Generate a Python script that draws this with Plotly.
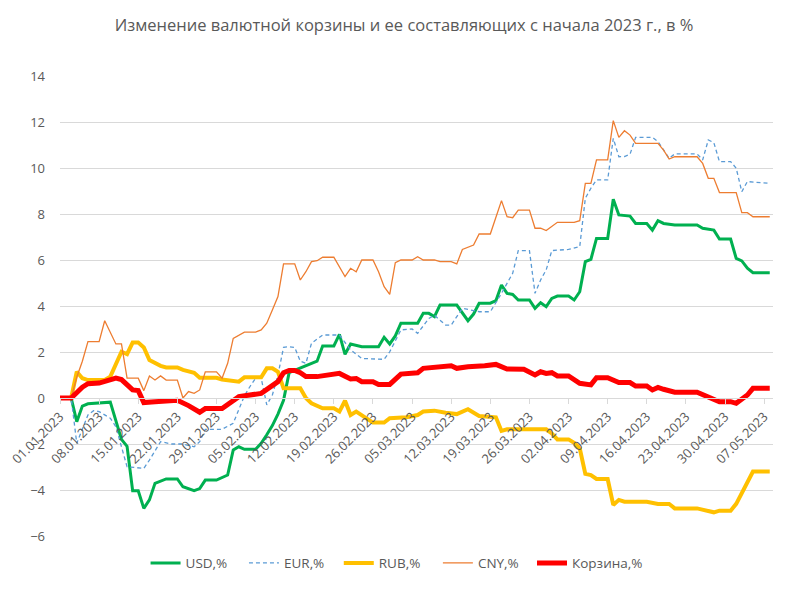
import pandas as pd
import plotly.graph_objects as go

# days counted from 01.01.2023, values in %
usd_day = [0, 2, 3, 4, 5, 8, 9, 11, 12, 13, 14, 15, 16, 17, 19, 21, 22, 24, 25, 26, 28, 30, 31, 32, 33, 35, 36, 37, 38, 39, 40,
           41, 42, 44, 46, 47, 49, 50, 51, 52, 54, 57, 58, 59, 60, 61, 64, 65, 66, 67, 68, 71, 73, 74, 75, 77, 78, 79, 80,
           81, 82, 84, 85, 86, 87, 88, 89, 91, 92, 93, 94, 95, 96, 98, 99, 100, 102, 103, 105, 106, 107, 108, 110, 114,
           115, 117, 118, 120, 121, 122, 123, 124, 127]
usd_val = [0, 0, -1.03, -0.35, -0.25, -0.22, -0.18, -1.8, -2.1, -4.03, -4.03, -4.8, -4.43, -3.71, -3.52, -3.52, -3.86,
           -4.03, -3.94, -3.57, -3.57, -3.35, -2.26, -2.12, -2.23, -2.23, -1.97, -1.6, -1.2, -0.7, -0.1,
           1.1, 1.2, 1.4, 1.6, 2.26, 2.26, 2.77, 1.9, 2.35, 2.23, 2.23, 2.64, 2.35, 2.7, 3.25, 3.25, 3.68, 3.68, 3.54,
           4.04, 4.04, 3.36, 3.65, 4.12, 4.12, 4.23, 4.91, 4.55, 4.5, 4.26, 4.26, 3.9, 4.14, 3.97, 4.33, 4.43, 4.43,
           4.26, 4.62, 5.93, 6.03, 6.94, 6.94, 8.64, 7.96, 7.91, 7.59, 7.59, 7.3, 7.71, 7.59, 7.52, 7.52, 7.38, 7.3,
           6.91, 6.91, 6.07, 5.96, 5.64, 5.45, 5.45]

eur_day = [0, 2, 3, 5, 6, 7, 9, 10, 11, 12, 15, 16, 18, 20, 22, 24, 25, 26, 29, 31, 32, 33, 34, 35, 36, 37, 38, 39, 40,
           41, 42, 43, 44, 45, 47, 50, 52, 54, 58, 59, 61, 63, 64, 66, 67, 69, 70, 72, 75, 77, 79, 81, 82, 84, 85, 86,
           87, 88, 91, 93, 94, 95, 96, 98, 99, 100, 101, 102, 103, 106, 107, 109, 110, 114, 115, 116, 117, 118, 120,
           121, 122, 123, 127]
eur_val = [0, 0, -1.97, -0.74, -0.55, -0.59, -0.88, -1.25, -2.12, -2.99, -3.06, -2.7, -1.9, -2.0, -2.0, -2.12, -1.9,
           -1.36, -1.36, -1.1, -0.5, 0.1, 0.5, 0.86, 0.86, -0.3, 0.13, 1.0, 2.2, 2.23, 2.2, 1.6, 1.51, 2.38, 2.74,
           2.74, 2.09, 1.72, 1.68, 2.01, 2.96, 3.0, 2.81, 3.46, 3.6, 3.17, 3.17, 3.9, 3.75, 3.75, 4.55, 5.42, 6.41,
           6.41, 4.55, 5.13, 5.57, 6.41, 6.46, 6.58, 8.68, 9.12, 9.48, 9.48, 11.29, 10.49, 10.5, 10.6, 11.33, 11.33,
           11.15, 10.42, 10.61, 10.61, 10.35, 11.22, 11.1, 10.28, 10.28, 9.99, 8.97, 9.41, 9.33]

rub_day = [0, 2, 3, 4, 5, 8, 9, 10, 11, 12, 13, 14, 15, 16, 17, 18, 19, 21, 22, 24, 25, 28, 29, 31, 32, 33, 36, 37, 38,
           39, 40, 43, 44, 45, 47, 49, 50, 51, 52, 53, 55, 56, 58, 59, 62, 64, 65, 67, 69, 71, 73, 75, 78, 79, 80, 87,
           88, 89, 91, 92, 93, 94, 95, 96, 98, 99, 100, 101, 105, 107, 109, 110, 114, 115, 117, 118, 120, 121, 122,
           123, 124, 127]
rub_val = [0, 0, 1.14, 0.86, 0.78, 0.78, 0.93, 1.51, 2.01, 1.91, 2.41, 2.41, 2.2, 1.65, 1.51, 1.4, 1.33, 1.33, 1.22,
           1.1, 0.88, 0.88, 0.8, 0.75, 0.71, 0.9, 0.9, 1.29, 1.29, 1.14, 0.42, 0.42, 0.0, -0.23, -0.45, -0.45, -0.59,
           -0.12, -0.74, -0.59, -0.88, -1.07, -1.07, -0.88, -0.84, -0.74, -0.59, -0.55, -0.64, -0.7, -0.49, -0.78,
           -0.84, -1.43, -1.36, -1.36, -1.54, -1.8, -1.8, -1.95, -2.19, -3.3, -3.35, -3.52, -3.52, -4.65, -4.43,
           -4.51, -4.51, -4.61, -4.61, -4.8, -4.8, -4.87, -4.97, -4.9, -4.9, -4.6, -4.14, -3.7, -3.2, -3.2]

cny_day = [0, 2, 3, 4, 5, 7, 8, 9, 10, 11, 12, 14, 15, 16, 17, 18, 19, 21, 22, 23, 24, 25, 26, 28, 29, 30, 31, 33, 35,
           36, 37, 38, 39, 40, 42, 43, 44, 45, 46, 47, 49, 51, 52, 53, 54, 56, 57, 58, 59, 60, 61, 63, 64, 65, 67, 68,
           70, 71, 72, 74, 75, 77, 79, 80, 81, 82, 84, 85, 86, 87, 89, 92, 93, 94, 95, 96, 98, 99, 100, 101, 102, 103,
           107, 108, 109, 110, 114, 115, 116, 117, 118, 121, 122, 123, 124, 127]
cny_val = [0, 0, 0.9, 1.6, 2.45, 2.45, 3.36, 2.88, 2.35, 2.35, 0.86, 0.86, 0.32, 0.96, 0.78, 0.96, 0.78, 0.78, 0.0,
           0.28, 0.2, 0.35, 1.14, 1.14, 0.86, 1.51, 2.59, 2.86, 2.86, 2.96, 3.25, 3.83, 4.41, 5.83, 5.83, 5.13, 5.49,
           5.93, 5.97, 6.12, 6.12, 5.28, 5.64, 5.49, 6.0, 6.0, 5.49, 4.84, 4.51, 5.88, 6.0, 6.0, 6.14, 6.0, 6.0, 5.93,
           5.93, 5.83, 6.46, 6.65, 7.13, 7.13, 8.58, 7.88, 7.84, 8.17, 8.17, 7.38, 7.38, 7.28, 7.64, 7.64, 7.71, 9.33,
           9.33, 10.35, 10.35, 12.06, 11.33, 11.62, 11.43, 11.07, 11.07, 10.78, 10.39, 10.49, 10.49, 10.2, 9.55, 9.55,
           8.93, 8.93, 8.06, 8.06, 7.88, 7.88]

basket_day = [0, 2, 4, 5, 7, 9, 10, 11, 13, 14, 15, 17, 21, 23, 25, 26, 29, 32, 35, 36, 39, 40, 41, 42, 43, 44, 46, 49,
              50, 52, 53, 54, 56, 57, 59, 61, 64, 65, 68, 70, 71, 73, 76, 78, 80, 83, 85, 86, 87, 88, 89, 91, 93, 95,
              96, 98, 100, 102, 103, 105, 106, 107, 108, 110, 114, 116, 117, 118, 120, 121, 123, 124, 127]
basket_val = [0, 0, 0.47, 0.62, 0.65, 0.78, 0.87, 0.8, 0.35, 0.32, -0.2, -0.16, -0.1, -0.33, -0.62, -0.46, -0.46, 0.06,
              0.2, 0.2, 0.71, 1.1, 1.2, 1.2, 1.1, 0.93, 0.93, 1.0, 1.07, 0.83, 0.85, 0.71, 0.71, 0.59, 0.59, 1.04, 1.1,
              1.29, 1.36, 1.4, 1.29, 1.36, 1.4, 1.46, 1.26, 1.25, 1.0, 1.14, 1.07, 1.1, 0.96, 0.96, 0.64, 0.57, 0.88,
              0.88, 0.67, 0.67, 0.52, 0.52, 0.35, 0.46, 0.38, 0.25, 0.25, 0.06, -0.01, -0.16, -0.16, -0.23, 0.13, 0.42,
              0.42]

start = pd.Timestamp("2023-01-01")


def to_dates(days):
    return start + pd.to_timedelta(days, unit="D")


series = [
    ("USD,%", usd_day, usd_val, dict(color="#00B050", width=3)),
    ("EUR,%", eur_day, eur_val, dict(color="#5B9BD5", width=1.3, dash="4px,3px")),
    ("RUB,%", rub_day, rub_val, dict(color="#FFC000", width=4)),
    ("CNY,%", cny_day, cny_val, dict(color="#ED7D31", width=1.3)),
    ("Корзина,%", basket_day, basket_val, dict(color="#FF0000", width=5)),
]

# one legend box per series so the entries are spaced like the Excel legend
legend_x = [0.12, 0.258, 0.391, 0.53, 0.662]
legend_names = ["legend", "legend2", "legend3", "legend4", "legend5"]

fig = go.Figure()
for (name, days, vals, line), lg in zip(series, legend_names):
    fig.add_trace(go.Scatter(x=to_dates(days), y=vals, mode="lines", name=name, line=line,
                             legend=lg, showlegend=True))

font = "Open Sans, Noto Sans, sans-serif"
# page body has an 8px margin, so the figure is a bit smaller than the window
fig.update_layout(
    width=792, height=584, showlegend=True,
    paper_bgcolor="white", plot_bgcolor="white",
    margin=dict(l=52, r=27, t=68, b=56),
    font=dict(family=font, color="#595959", size=13),
    title=dict(text="Изменение валютной корзины и ее составляющих с начала 2023 г., в %",
               x=0.5, xanchor="center", y=0.971, yanchor="middle", yref="container",
               font=dict(size=16.5, color="#595959")),
)
for lg, lx in zip(legend_names, legend_x):
    fig.update_layout({lg: dict(orientation="h", x=lx, xanchor="left", y=-0.059, yanchor="middle",
                                bgcolor="rgba(0,0,0,0)", font=dict(size=13.5, color="#595959"))})

fig.update_xaxes(
    type="date", range=["2023-01-01", "2023-05-08 14:00"],
    tick0="2023-01-01", dtick=7 * 86400000, tickformat="%d.%m.%Y", tickangle=-45,
    showgrid=False, showline=True, linecolor="#d9d9d9", linewidth=1,
    ticks="outside", ticklen=5, tickcolor="#d9d9d9",
    anchor="free", position=0.3, automargin=False, ticklabeloverflow="allow",
    tickfont=dict(size=13, color="#595959"),
)
fig.update_yaxes(
    range=[-6, 14], dtick=2, showgrid=True, gridcolor="#d9d9d9", gridwidth=1,
    zeroline=False, showline=False, ticklabelstandoff=14, automargin=False,
    tickfont=dict(size=13, color="#595959"),
)

fig.write_html("out.html")
